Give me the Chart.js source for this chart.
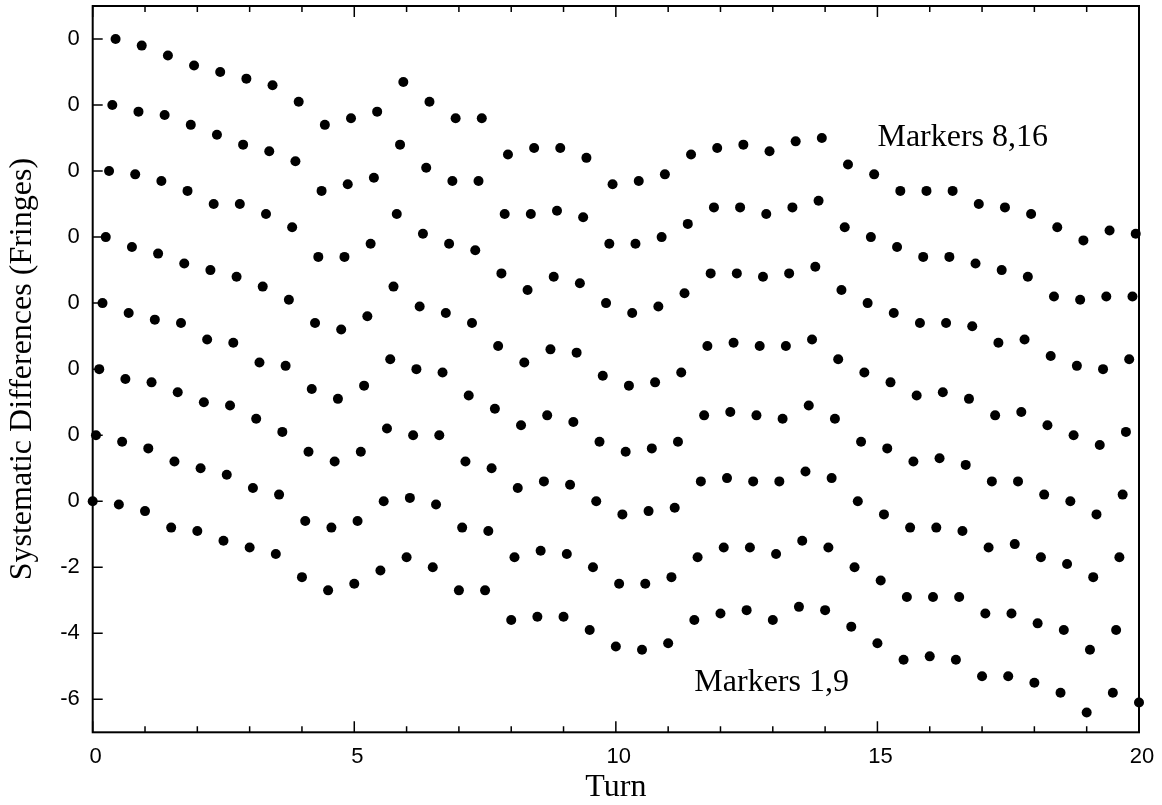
<!DOCTYPE html>
<html>
<head>
<meta charset="utf-8">
<title>Systematic Differences</title>
<script src="https://cdn.jsdelivr.net/npm/chart.js@4.4.1/dist/chart.umd.min.js"></script>
<style>
  body { margin: 0; background: #fff; }
  #chart-container { display: block; }
</style>
</head>
<body>
<canvas id="chart-container" width="1162" height="805"></canvas>
<script>
// turn of each reading (one every half turn)
const turns = [0, 0.5, 1, 1.5, 2, 2.5, 3, 3.5, 4, 4.5, 5, 5.5, 6, 6.5, 7, 7.5, 8, 8.5, 9, 9.5,
  10, 10.5, 11, 11.5, 12, 12.5, 13, 13.5, 14, 14.5, 15, 15.5, 16, 16.5, 17, 17.5, 18, 18.5, 19, 19.5, 20];

// each marker pair is read 1/16 turn after the one before
const markerShift = [0, 0.0625, 0.125, 0.1875, 0.25, 0.3125, 0.375, 0.4375];

// each pair is drawn 2 fringes above the previous one
const pairOffset = [0, 2, 4, 6, 8, 10, 12, 14];

const pairNames = ['Markers 1,9', 'Markers 2,10', 'Markers 3,11', 'Markers 4,12',
  'Markers 5,13', 'Markers 6,14', 'Markers 7,15', 'Markers 8,16'];

// differences in fringes
const m1_9 = [0.0, -0.1, -0.3, -0.8, -0.9, -1.2, -1.4, -1.6, -2.3, -2.7, -2.5, -2.1, -1.7, -2.0, -2.7, -2.7, -3.6, -3.5, -3.5, -3.9,
  -4.4, -4.5, -4.3, -3.6, -3.4, -3.3, -3.6, -3.2, -3.3, -3.8, -4.3, -4.8, -4.7, -4.8, -5.3, -5.3, -5.5, -5.8, -6.4, -5.8, -6.1];
const m2_10 = [0.0, -0.2, -0.4, -0.8, -1.0, -1.2, -1.6, -1.8, -2.6, -2.8, -2.6, -2.0, -1.9, -2.1, -2.8, -2.9, -3.7, -3.5, -3.6, -4.0,
  -4.5, -4.5, -4.3, -3.7, -3.4, -3.4, -3.6, -3.2, -3.4, -4.0, -4.4, -4.9, -4.9, -4.9, -5.4, -5.4, -5.7, -5.9, -6.5, -5.9];
const m3_11 = [0.0, -0.3, -0.4, -0.7, -1.0, -1.1, -1.5, -1.9, -2.5, -2.8, -2.5, -1.8, -2.0, -2.0, -2.8, -3.0, -3.6, -3.4, -3.5, -4.0,
  -4.4, -4.3, -4.2, -3.4, -3.3, -3.4, -3.4, -3.1, -3.3, -4.0, -4.4, -4.8, -4.8, -4.9, -5.4, -5.3, -5.7, -5.9, -6.3, -5.7];
const m4_12 = [0.0, -0.3, -0.5, -0.6, -1.1, -1.2, -1.8, -1.9, -2.6, -2.9, -2.5, -1.7, -2.0, -2.1, -2.8, -3.2, -3.7, -3.4, -3.6, -4.2,
  -4.5, -4.4, -4.2, -3.4, -3.3, -3.4, -3.5, -3.1, -3.5, -4.2, -4.4, -4.8, -4.7, -4.9, -5.4, -5.4, -5.8, -6.0, -6.4, -5.8];
const m5_13 = [0.0, -0.3, -0.5, -0.8, -1.0, -1.2, -1.5, -1.9, -2.6, -2.8, -2.4, -1.5, -2.1, -2.3, -2.6, -3.3, -3.8, -3.4, -3.5, -4.2,
  -4.5, -4.4, -4.1, -3.3, -3.2, -3.3, -3.3, -3.1, -3.7, -4.1, -4.4, -4.8, -4.7, -4.9, -5.4, -5.3, -5.7, -6.0, -6.3, -5.9];
const m6_14 = [0.0, -0.1, -0.3, -0.6, -1.0, -1.0, -1.3, -1.7, -2.6, -2.6, -2.2, -1.3, -1.9, -2.2, -2.4, -3.1, -3.6, -3.2, -3.4, -4.0,
  -4.3, -4.1, -3.7, -3.1, -3.1, -3.2, -3.1, -2.9, -3.6, -4.0, -4.3, -4.6, -4.6, -4.7, -5.2, -5.1, -5.6, -5.9, -6.0, -5.7];
const m7_15 = [0.0, -0.2, -0.3, -0.6, -0.9, -1.2, -1.4, -1.7, -2.6, -2.4, -2.2, -1.2, -1.9, -2.3, -2.3, -3.3, -3.3, -3.2, -3.4, -4.2,
  -4.2, -4.0, -3.6, -3.1, -3.1, -3.3, -3.1, -2.9, -3.7, -4.0, -4.3, -4.6, -4.6, -4.8, -5.0, -5.2, -5.8, -5.9, -5.8, -5.8];
const m8_16 = [0.0, -0.2, -0.5, -0.8, -1.0, -1.2, -1.4, -1.9, -2.6, -2.4, -2.2, -1.3, -1.9, -2.4, -2.4, -3.5, -3.3, -3.3, -3.6, -4.4,
  -4.3, -4.1, -3.5, -3.3, -3.2, -3.4, -3.1, -3.0, -3.8, -4.1, -4.6, -4.6, -4.6, -5.0, -5.1, -5.3, -5.7, -6.1, -5.8, -5.9];

const xTickValues = [0, 5, 10, 15, 20];
const yTickValues = [-6, -4, -2, 0, 2, 4, 6, 8, 10, 12, 14];
const yTickLabels = ['-6', '-4', '-2', '0', '0', '0', '0', '0', '0', '0', '0'];

const pairs = [m1_9, m2_10, m3_11, m4_12, m5_13, m6_14, m7_15, m8_16];

const datasets = pairs.map((vals, k) => ({
  label: pairNames[k],
  data: vals.map((v, j) => ({ x: turns[j] + markerShift[k], y: v + pairOffset[k] })),
  pointRadius: 5,
  pointBackgroundColor: '#000',
  pointBorderWidth: 0,
  showLine: false,
  clip: false
}));

// text labels, placed in data units
const notes = [
  { text: 'Markers 8,16', x: 15.0, y: 10.77 },
  { text: 'Markers 1,9', x: 11.5, y: -5.76 }
];

// frame with inward tick marks, like the original plot
const frameTicks = {
  id: 'frameTicks',
  beforeDatasetsDraw(chart) {
    const { ctx, chartArea: a, scales: { x, y } } = chart;
    ctx.save();
    ctx.strokeStyle = '#000';
    ctx.lineWidth = 2;
    ctx.strokeRect(a.left, a.top, a.right - a.left, a.bottom - a.top);
    ctx.lineWidth = 1.5;
    ctx.beginPath();
    for (let t = 0; t <= 20; t++) {
      const px = x.getPixelForValue(t);
      const len = t % 5 === 0 ? 11 : 6;
      ctx.moveTo(px, a.bottom); ctx.lineTo(px, a.bottom - len);
      ctx.moveTo(px, a.top); ctx.lineTo(px, a.top + len);
    }
    yTickValues.forEach(v => {
      const py = y.getPixelForValue(v);
      ctx.moveTo(a.left, py); ctx.lineTo(a.left + 10, py);
    });
    ctx.stroke();
    ctx.restore();
  },
  afterDatasetsDraw(chart) {
    const { ctx, scales: { x, y } } = chart;
    ctx.save();
    ctx.fillStyle = '#000';
    ctx.font = '32px "Liberation Serif", "Times New Roman", serif';
    ctx.textAlign = 'left';
    ctx.textBaseline = 'alphabetic';
    notes.forEach(n => ctx.fillText(n.text, x.getPixelForValue(n.x), y.getPixelForValue(n.y)));
    ctx.restore();
  }
};

const ctx = document.getElementById('chart-container').getContext('2d');
new Chart(ctx, {
  type: 'scatter',
  data: { datasets: datasets },
  options: {
    responsive: false,
    animation: false,
    devicePixelRatio: 1,
    layout: { padding: { top: 6, right: 23, left: 0, bottom: 0 } },
    plugins: { legend: { display: false }, tooltip: { enabled: false } },
    scales: {
      x: {
        type: 'linear',
        min: 0,
        max: 20,
        afterBuildTicks: scale => { scale.ticks = xTickValues.map(v => ({ value: v })); },
        afterFit: scale => {
          scale.height = 72.7;
          scale.paddingLeft = 0;
          scale.paddingRight = 0;
        },
        grid: { display: false, drawTicks: false },
        border: { display: false },
        ticks: {
          color: '#000',
          font: { family: '"Liberation Sans", Arial, sans-serif', size: 22 },
          padding: 11,
          labelOffset: 3,
          maxRotation: 0
        },
        title: {
          display: true,
          text: 'Turn',
          color: '#000',
          font: { family: '"Liberation Serif", "Times New Roman", serif', size: 32, lineHeight: 1.1 },
          padding: 0
        }
      },
      y: {
        type: 'linear',
        min: -7,
        max: 15,
        afterBuildTicks: scale => { scale.ticks = yTickValues.map(v => ({ value: v })); },
        afterFit: scale => {
          scale.width = 92.7;
          scale.paddingTop = 0;
          scale.paddingBottom = 0;
        },
        grid: { display: false, drawTicks: false },
        border: { display: false },
        ticks: {
          color: '#000',
          font: { family: '"Liberation Sans", Arial, sans-serif', size: 22 },
          padding: 13,
          callback: (value, index) => yTickLabels[index]
        },
        title: {
          display: true,
          text: 'Systematic Differences (Fringes)',
          color: '#000',
          font: { family: '"Liberation Serif", "Times New Roman", serif', size: 32, lineHeight: 1.1 },
          padding: { top: 5, bottom: 0 }
        }
      }
    }
  },
  plugins: [frameTicks]
});
</script>
</body>
</html>
